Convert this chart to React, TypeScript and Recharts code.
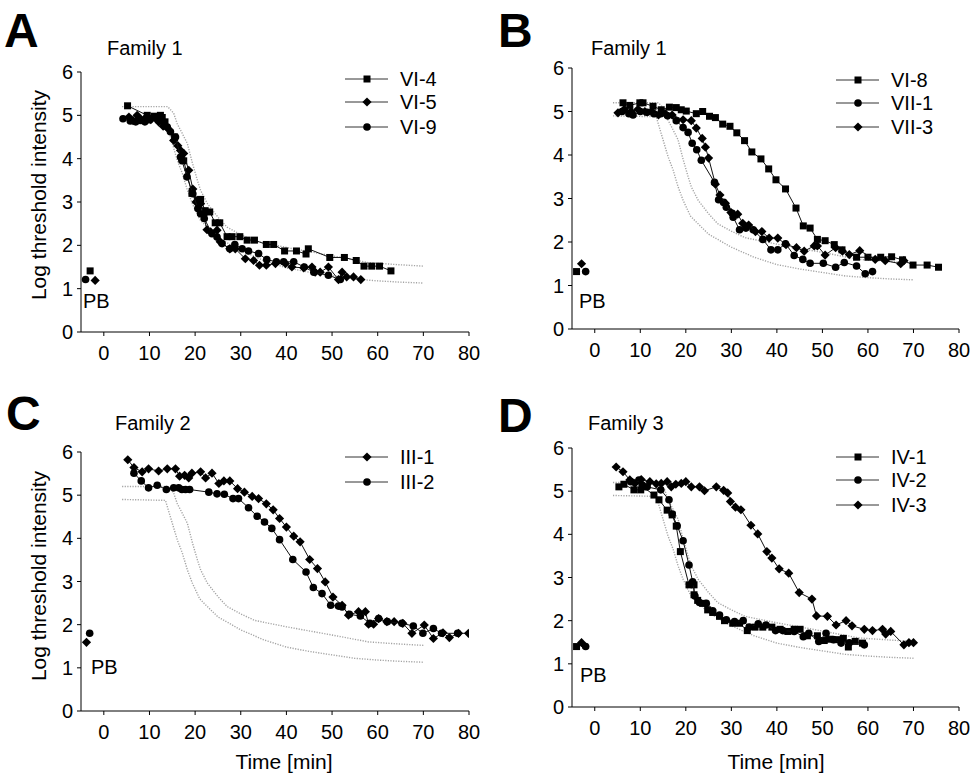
import React from 'react'
import { ComposedChart, Scatter, XAxis, YAxis } from 'recharts'

type Pt = [number, number]
type Shape = 'square' | 'circle' | 'diamond'

const FONT = '"Liberation Sans", Arial, Helvetica, sans-serif'

const timeTicks = [0, 10, 20, 30, 40, 50, 60, 70, 80]
const logTicks = [0, 1, 2, 3, 4, 5, 6]

// normal range (upper / lower bound), same in every panel
const normalUpper: Pt[] = [[4, 5.2], [14, 5.2], [15.3, 5.05], [16.1, 4.8], [17, 4.62], [18.3, 4.35], [19.4, 3.9], [20.5, 3.5], [21.2, 3.27], [22.7, 2.96], [25, 2.65], [27, 2.42], [30, 2.25], [33, 2.1], [40, 1.95], [50, 1.76], [58, 1.6], [65, 1.55], [70, 1.52]]
const normalLower: Pt[] = [[4, 4.9], [13.5, 4.88], [15, 4.35], [16.1, 3.96], [17.2, 3.66], [18.3, 3.27], [19.4, 2.96], [21, 2.6], [22, 2.49], [25, 2.18], [30, 1.88], [35, 1.65], [40, 1.48], [45, 1.38], [50, 1.3], [55, 1.22], [60, 1.18], [65, 1.15], [70, 1.13]]

// Panel A - Family 1
const vi4: Pt[] = [[5.2, 5.22], [9.5, 5.0], [11, 4.98], [12.4, 5.0], [12.8, 4.95], [13.4, 4.85], [15.5, 4.5], [17.5, 3.95], [19.3, 3.2], [20.5, 3.05], [21.2, 3.06], [22.2, 2.8], [23.2, 2.77], [24.4, 2.52], [25.4, 2.52], [27, 2.2], [28.1, 2.2], [29.8, 2.2], [31.4, 2.12], [33, 2.12], [35.6, 2.02], [37.2, 2.02], [39.6, 1.87], [42.2, 1.87], [44.3, 1.8], [44.8, 1.92], [49.5, 1.72], [52.7, 1.72], [55.3, 1.65], [57, 1.52], [58.7, 1.52], [60.4, 1.52], [62.9, 1.41]]
const vi5: Pt[] = [[5.5, 4.96], [6.4, 4.88], [7.3, 5.0], [8.2, 4.9], [9.2, 4.95], [10.3, 4.9], [11.2, 4.95], [12, 4.85], [13, 4.75], [14, 4.7], [15.3, 4.42], [16.2, 4.3], [16.8, 4.19], [17.5, 4.12], [18.6, 3.73], [19.5, 3.3], [20.2, 3.0], [21.2, 2.96], [21.8, 2.7], [22.6, 2.36], [23.4, 2.31], [24.8, 2.35], [25.5, 2.08], [27.6, 1.92], [28.8, 1.92], [31, 1.69], [32.8, 1.65], [34.1, 1.54], [35.6, 1.54], [37.6, 1.58], [39.8, 1.58], [41.2, 1.5], [43.8, 1.48], [45.6, 1.5], [46.3, 1.38], [47.4, 1.38], [49.2, 1.5], [51.4, 1.21], [52.2, 1.38], [53.2, 1.27], [54.7, 1.27], [56.3, 1.21]]
const vi9: Pt[] = [[4.2, 4.92], [5.8, 4.87], [7, 4.85], [8, 4.88], [9, 4.85], [10, 4.9], [11, 4.95], [12, 4.88], [13.2, 4.78], [13.9, 4.73], [14.6, 4.62], [15.7, 4.5], [16.8, 4.04], [17.1, 3.96], [18.2, 3.58], [19.5, 3.19], [20.6, 2.85], [21.2, 2.73], [22, 2.62], [23.7, 2.27], [24.8, 2.19], [25.9, 2.04], [27.6, 1.92], [28.7, 2.02], [30.3, 1.92], [31.7, 1.87], [33.9, 1.81], [35.7, 1.67], [37.8, 1.62], [39.4, 1.62], [41.6, 1.62], [43.9, 1.5], [46, 1.38], [49.2, 1.31], [51.8, 1.21]]
const pbVi4: Pt[] = [[-3, 1.41]]
const pbVi5: Pt[] = [[-1.9, 1.19]]
const pbVi9: Pt[] = [[-4, 1.21]]

// Panel B - Family 1
const vi8: Pt[] = [[6.2, 5.2], [7.7, 5.14], [9.9, 5.2], [10.6, 5.2], [12.8, 5.12], [14.6, 5.04], [16.4, 5.1], [17.9, 5.09], [19, 5.04], [20.1, 5.01], [22.3, 4.95], [23.7, 5.0], [25.2, 4.89], [26.5, 4.86], [28.1, 4.71], [29.7, 4.66], [31.2, 4.51], [32.9, 4.33], [34.5, 4.07], [36.5, 3.91], [38.2, 3.68], [39.8, 3.43], [41.9, 3.22], [44.2, 2.78], [45.8, 2.37], [47.3, 2.32], [48.9, 2.06], [50.6, 2.03], [52.6, 1.94], [54.3, 1.82], [57.5, 1.65], [60, 1.65], [62.8, 1.65], [65.2, 1.66], [67.6, 1.59], [69.9, 1.47], [73, 1.47], [75.5, 1.42]]
const vii1: Pt[] = [[6, 5.0], [7.5, 4.95], [8.4, 4.92], [10, 5.0], [11.5, 4.98], [13, 4.95], [14.5, 4.95], [16, 4.9], [17.9, 4.79], [19.4, 4.63], [20.5, 4.52], [21.4, 4.27], [22.4, 4.12], [23.4, 3.88], [26.3, 3.37], [27.2, 2.97], [28.3, 2.91], [28.9, 2.8], [30.2, 2.66], [30.4, 2.57], [31.8, 2.28], [33.2, 2.32], [34.8, 2.28], [36.9, 2.06], [38.7, 1.82], [40.2, 1.82], [41.9, 1.96], [43.8, 1.69], [45.7, 1.6], [47.3, 1.51], [50.2, 1.51], [52.9, 1.42], [54.8, 1.53], [57.5, 1.45], [59.4, 1.27], [61, 1.32]]
const vii3: Pt[] = [[5.1, 4.97], [6.5, 5.05], [8, 5.0], [9.5, 5.05], [11, 5.0], [12.5, 5.0], [14, 4.92], [15.5, 4.95], [17, 4.92], [19.4, 4.81], [21.2, 4.79], [22.3, 4.62], [23.6, 4.38], [24.3, 4.18], [25, 3.93], [26.5, 3.33], [27.5, 3.08], [28.7, 2.89], [29.9, 2.68], [31.4, 2.64], [32.5, 2.43], [33.8, 2.39], [35.3, 2.24], [36.7, 2.24], [38.3, 2.09], [40.2, 2.09], [42, 1.94], [44.3, 1.87], [46, 1.79], [48.2, 1.91], [48.9, 1.91], [50.6, 1.7], [52.9, 1.87], [54.4, 1.79], [55.9, 1.71], [58.2, 1.8], [61.6, 1.6], [63.8, 1.57], [67.2, 1.5], [67.9, 1.57]]
const pbVi8: Pt[] = [[-4, 1.32]]
const pbVii1: Pt[] = [[-2, 1.32]]
const pbVii3: Pt[] = [[-2.9, 1.5]]

// Panel C - Family 2
const iii1: Pt[] = [[5.25, 5.82], [6.6, 5.64], [8.4, 5.54], [9.8, 5.61], [12, 5.56], [13.9, 5.61], [15.7, 5.61], [16.6, 5.44], [17.7, 5.46], [18.6, 5.4], [19.3, 5.51], [21.2, 5.54], [22.3, 5.4], [23.7, 5.51], [25.2, 5.27], [26.3, 5.33], [27.6, 5.33], [29.3, 5.15], [30.8, 5.07], [32.5, 4.97], [33.9, 4.92], [35.6, 4.8], [37.1, 4.66], [38.5, 4.46], [40, 4.26], [41.6, 4.05], [43, 3.92], [45.1, 3.51], [46.8, 3.3], [48.5, 2.99], [50.2, 2.64], [52.2, 2.45], [53.6, 2.22], [55.8, 2.3], [57.3, 2.3], [58, 2.01], [59.1, 2.01], [60.2, 2.14], [62, 2.07], [63.6, 2.07], [65.5, 2.03], [67.5, 1.8], [70.2, 1.99], [72.2, 1.68], [74.3, 1.81], [75.7, 1.7], [77.7, 1.8], [79.9, 1.8]]
const iii2: Pt[] = [[6.6, 5.51], [8.2, 5.33], [9.8, 5.17], [11.7, 5.23], [13.7, 5.13], [15.3, 5.17], [16.4, 5.17], [17.1, 5.13], [17.9, 5.13], [18.8, 5.13], [23, 5.07], [24.8, 5.03], [26.4, 5.02], [28.3, 4.92], [29.5, 4.92], [31.7, 4.71], [33.6, 4.51], [35.2, 4.38], [36.8, 4.23], [38.5, 3.97], [41.4, 3.51], [44.3, 3.22], [45.9, 2.86], [47.8, 2.72], [49.7, 2.45], [51.4, 2.43], [52.2, 2.41], [53.8, 2.24], [56.2, 2.2], [58.3, 2.03], [60.2, 2.14], [62.1, 2.07], [65.3, 2.03], [67.8, 1.97], [69.9, 1.8], [72.2, 1.91], [74, 1.8], [77.5, 1.8]]
const pbIii1: Pt[] = [[-3.8, 1.59]]
const pbIii2: Pt[] = [[-3.1, 1.8]]

// Panel D - Family 3
const iv1: Pt[] = [[5.3, 5.1], [6.4, 5.16], [8.6, 5.03], [10.1, 5.03], [10.6, 5.1], [13, 4.91], [14.1, 4.8], [15.9, 4.56], [17, 4.45], [17.9, 4.19], [18.8, 3.6], [20.7, 2.83], [21.8, 2.83], [21.8, 2.6], [22.6, 2.47], [23.7, 2.4], [24.8, 2.25], [25.9, 2.19], [27.4, 2.1], [28.5, 2.0], [30.3, 1.94], [31.8, 1.94], [33.5, 1.77], [35.2, 1.85], [36.9, 1.85], [38.9, 1.85], [40.7, 1.8], [42.4, 1.75], [43.8, 1.8], [45.1, 1.8], [46.7, 1.65], [48.9, 1.65], [50.4, 1.54], [51.5, 1.57], [53.1, 1.56], [54.6, 1.59], [55.7, 1.39], [57.2, 1.52], [58.8, 1.48]]
const iv2: Pt[] = [[7.9, 5.22], [9.7, 5.26], [10.4, 5.14], [11.5, 5.1], [14.5, 5.03], [16.3, 4.8], [17, 4.47], [18.1, 4.2], [19.4, 3.85], [20.7, 3.29], [21.5, 2.9], [22, 2.57], [23, 2.42], [24.5, 2.4], [25.9, 2.23], [27.4, 2.13], [28.9, 2.02], [30.7, 1.98], [32.6, 2.0], [33.9, 1.85], [35.9, 1.93], [37.6, 1.9], [39.7, 1.77], [41.3, 1.77], [43.8, 1.75], [45.8, 1.63], [47, 1.71], [49.2, 1.52], [50.8, 1.71], [52.4, 1.56], [54.1, 1.48], [55.9, 1.49], [59.2, 1.44]]
const iv3: Pt[] = [[4.7, 5.56], [6.2, 5.45], [7.7, 5.26], [8.8, 5.18], [10.2, 5.27], [12.1, 5.22], [13.5, 5.17], [14.6, 5.18], [15.9, 5.22], [16.8, 5.1], [17.8, 5.16], [19, 5.18], [20, 5.22], [21.2, 5.1], [23, 5.1], [24.1, 5.01], [26.7, 5.1], [28.3, 5.02], [29.2, 4.96], [29.8, 4.76], [30.9, 4.63], [32.1, 4.57], [34.3, 4.21], [35.8, 4.01], [37.8, 3.6], [38.9, 3.45], [40.5, 3.2], [42.6, 3.1], [44.9, 2.65], [47.7, 2.5], [48.7, 2.11], [51.1, 2.1], [53, 1.9], [55.2, 2.0], [56.5, 1.88], [59.2, 1.8], [61, 1.77], [63.2, 1.8], [63.9, 1.69], [65, 1.75], [67.9, 1.44], [69, 1.49], [70, 1.49]]
const pbIv1: Pt[] = [[-4, 1.4]]
const pbIv2: Pt[] = [[-2, 1.4]]
const pbIv3: Pt[] = [[-2.9, 1.49]]

type Series = { name: string; shape: Shape; points: Pt[]; pb: Pt[] }

const seriesA: Series[] = [
  { name: 'VI-4', shape: 'square', points: vi4, pb: pbVi4 },
  { name: 'VI-5', shape: 'diamond', points: vi5, pb: pbVi5 },
  { name: 'VI-9', shape: 'circle', points: vi9, pb: pbVi9 },
]
const seriesB: Series[] = [
  { name: 'VI-8', shape: 'square', points: vi8, pb: pbVi8 },
  { name: 'VII-1', shape: 'circle', points: vii1, pb: pbVii1 },
  { name: 'VII-3', shape: 'diamond', points: vii3, pb: pbVii3 },
]
const seriesC: Series[] = [
  { name: 'III-1', shape: 'diamond', points: iii1, pb: pbIii1 },
  { name: 'III-2', shape: 'circle', points: iii2, pb: pbIii2 },
]
const seriesD: Series[] = [
  { name: 'IV-1', shape: 'square', points: iv1, pb: pbIv1 },
  { name: 'IV-2', shape: 'circle', points: iv2, pb: pbIv2 },
  { name: 'IV-3', shape: 'diamond', points: iv3, pb: pbIv3 },
]

const toRows = (pts: Pt[]) => pts.map(([t, v]) => ({ t, v }))

function Marker({ cx, cy, shape }: { cx?: number; cy?: number; shape: Shape }) {
  if (cx == null || cy == null || isNaN(cx) || isNaN(cy)) return <g />
  if (shape === 'square') return <rect x={cx - 3.5} y={cy - 3.5} width={7} height={7} fill="#000" />
  if (shape === 'circle') return <circle cx={cx} cy={cy} r={3.8} fill="#000" />
  return <polygon points={`${cx},${cy - 4.6} ${cx + 4.6},${cy} ${cx},${cy + 4.6} ${cx - 4.6},${cy}`} fill="#000" />
}

type PanelProps = {
  left: number; top: number; width: number; height: number
  margin: { top: number; right: number; bottom: number; left: number }
  yWidth: number
  letter: string; letterX: number; letterY: number
  family: string; familyX: number; familyY: number
  series: Series[]
  legendX: number; legendY: number[]
  pbX: number; pbY: number
  yLabel?: { x: number; y: number }
  xLabel?: { x: number; y: number }
}

function PanelChart(p: PanelProps) {
  const tickStyle = { fill: '#000', fontSize: 20, fontFamily: FONT }
  return (
    <div style={{ position: 'absolute', left: p.left, top: p.top, width: p.width, height: p.height }}>
      <ComposedChart width={p.width} height={p.height} margin={p.margin}>
        <XAxis
          type="number" dataKey="t" domain={[-5, 80]} ticks={timeTicks} allowDataOverflow
          height={30} tick={tickStyle} tickSize={4} tickMargin={10}
          axisLine={{ stroke: '#000' }} tickLine={{ stroke: '#000' }}
        />
        <YAxis
          type="number" dataKey="v" domain={[0, 6]} ticks={logTicks} allowDataOverflow
          width={p.yWidth} tick={tickStyle} tickSize={4} tickMargin={4}
          axisLine={{ stroke: '#000' }} tickLine={{ stroke: '#000' }}
        />
        {[normalUpper, normalLower].map((n, i) => (
          <Scatter
            key={'n' + i} data={toRows(n)} isAnimationActive={false}
            line={{ stroke: '#a4a4a4', strokeWidth: 1.4, strokeDasharray: '1.2 1.4' }}
            shape={() => <g />}
          />
        ))}
        {p.series.map(s => (
          <Scatter
            key={s.name} name={s.name} data={toRows(s.points)} isAnimationActive={false}
            line={{ stroke: '#111', strokeWidth: 1 }}
            shape={(d: any) => <Marker cx={d.cx} cy={d.cy} shape={s.shape} />}
          />
        ))}
        {p.series.map(s => (
          <Scatter
            key={s.name + '-pb'} data={toRows(s.pb)} isAnimationActive={false}
            shape={(d: any) => <Marker cx={d.cx} cy={d.cy} shape={s.shape} />}
          />
        ))}
      </ComposedChart>
    </div>
  )
}

// texts and legend of one panel, drawn in page coordinates
function PanelText(p: PanelProps) {
  return (
    <g transform={`translate(${p.left},${p.top})`}>
      <text x={p.letterX} y={p.letterY} fontSize={48} fontWeight={900} fill="#000">{p.letter}</text>
      <text x={p.familyX} y={p.familyY} fontSize={20} fill="#000">{p.family}</text>
      <text x={p.pbX} y={p.pbY} fontSize={20} fill="#000">PB</text>
      {p.yLabel && (
        <text transform={`translate(${p.yLabel.x},${p.yLabel.y}) rotate(-90)`} textAnchor="middle" fontSize={21} fill="#000">
          Log threshold intensity
        </text>
      )}
      {p.xLabel && (
        <text x={p.xLabel.x} y={p.xLabel.y} textAnchor="middle" fontSize={21} fill="#000">Time [min]</text>
      )}
      {p.series.map((s, i) => (
        <g key={s.name}>
          <line x1={p.legendX} x2={p.legendX + 43} y1={p.legendY[i]} y2={p.legendY[i]} stroke="#333" strokeWidth={1} />
          <Marker cx={p.legendX + 22} cy={p.legendY[i]} shape={s.shape} />
          <text x={p.legendX + 55} y={p.legendY[i]} dominantBaseline="central" fontSize={20} fill="#000">{s.name}</text>
        </g>
      ))}
    </g>
  )
}

const panels: PanelProps[] = [
  {
    left: 0, top: 0, width: 486, height: 380,
    margin: { top: 72, right: 17, bottom: 18, left: 0 }, yWidth: 81,
    letter: 'A', letterX: 4, letterY: 47, family: 'Family 1', familyX: 107, familyY: 55,
    series: seriesA, legendX: 345, legendY: [79, 102, 127],
    pbX: 83, pbY: 308, yLabel: { x: 46, y: 195 },
  },
  {
    left: 486, top: 0, width: 487, height: 380,
    margin: { top: 68, right: 14, bottom: 21, left: 0 }, yWidth: 86,
    letter: 'B', letterX: 12, letterY: 47, family: 'Family 1', familyX: 105, familyY: 55,
    series: seriesB, legendX: 350, legendY: [80, 103, 127],
    pbX: 93, pbY: 308,
  },
  {
    left: 0, top: 390, width: 486, height: 383,
    margin: { top: 62, right: 17, bottom: 32, left: 0 }, yWidth: 81,
    letter: 'C', letterX: 6, letterY: 40, family: 'Family 2', familyX: 115, familyY: 40,
    series: seriesC, legendX: 345, legendY: [67, 92],
    pbX: 91, pbY: 284, yLabel: { x: 46, y: 186 }, xLabel: { x: 284, y: 379 },
  },
  {
    left: 486, top: 390, width: 487, height: 383,
    margin: { top: 58, right: 14, bottom: 36, left: 0 }, yWidth: 86,
    letter: 'D', letterX: 12, letterY: 42, family: 'Family 3', familyX: 102, familyY: 40,
    series: seriesD, legendX: 350, legendY: [67, 90, 115],
    pbX: 94, pbY: 292, xLabel: { x: 290, y: 379 },
  },
]

export default function App() {
  return (
    <div style={{ position: 'absolute', left: 0, top: 0, width: 973, height: 773, background: '#fff', overflow: 'hidden' }}>
      {panels.map(p => <PanelChart key={p.letter} {...p} />)}
      <svg width={973} height={773} style={{ position: 'absolute', left: 0, top: 0, pointerEvents: 'none' }} fontFamily={FONT}>
        {panels.map(p => <PanelText key={p.letter} {...p} />)}
      </svg>
    </div>
  )
}
